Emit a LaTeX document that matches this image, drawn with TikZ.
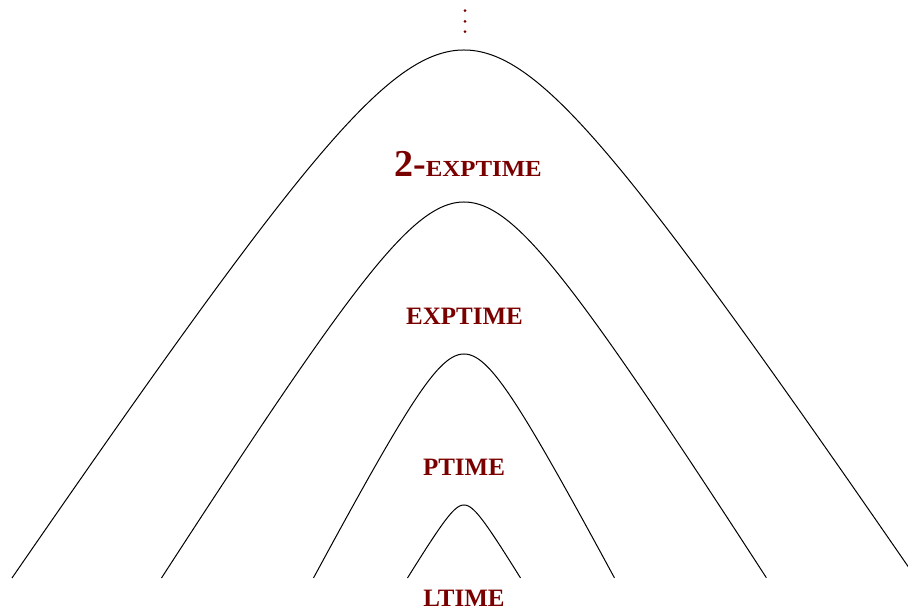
\documentclass[tikz,border=0pt]{standalone}
\usepackage{fontspec}
\usepackage{graphicx}
\setmainfont{Liberation Serif}
\definecolor{lbl}{RGB}{122,0,0}
\begin{document}
\begin{tikzpicture}[x=1pt,y=1pt,
  curve/.style={line width=1pt, draw=black},
  cls/.style={text=lbl, font=\fontsize{25}{30}\selectfont\bfseries, anchor=base, inner sep=0pt},
  dotmark/.style={fill=lbl}]
\useasboundingbox (0,0) rectangle (908,612);
\foreach \W/\H in {452/528, 302.5/376, 150.5/224, 56.5/73}{
  \draw[curve] plot[domain=-1:1,samples=161,smooth]
    ({464+\W*\x},{34+\H*(1-(sqrt(1+16*\x*\x)-1)/3.1231)});
}
\fill[dotmark] (465,601.3) circle (1.5);
\fill[dotmark] (465,590.6) circle (1.5);
\fill[dotmark] (465,580.3) circle (1.5);
\node[cls] (twoexp) at (468,435) {\fontsize{38}{42}\selectfont 2-\scalebox{1.08}[1]{\fontsize{23}{27}\selectfont EXPTIME}};
\node[cls] (exp) at (464.5,287) {EXPTIME};
\node[cls] (ptime) at (464,136) {PTIME};
\node[cls] (ltime) at (464,5) {LTIME};
\end{tikzpicture}
\end{document}
